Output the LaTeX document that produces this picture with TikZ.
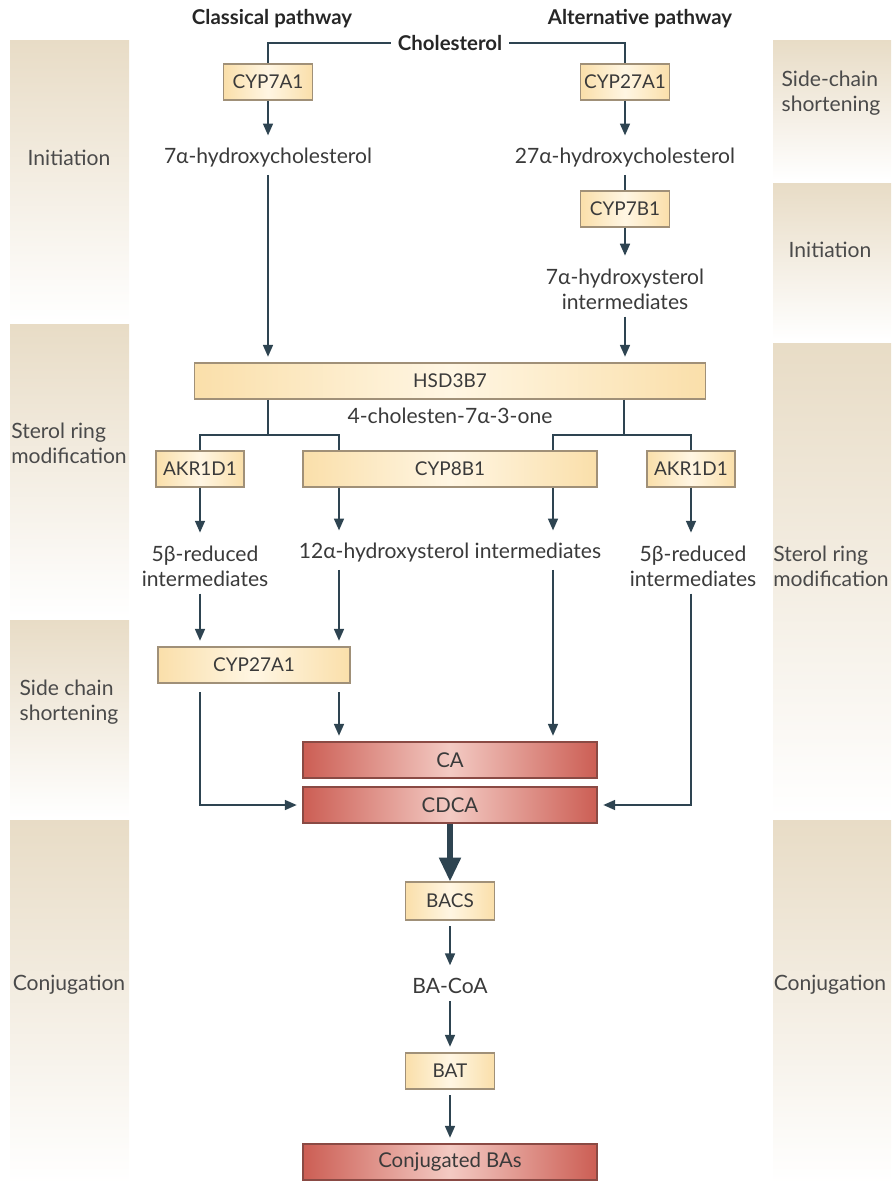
\documentclass[tikz,border=0pt]{standalone}
\usepackage{fontspec}
\setmainfont{Lato}
\usetikzlibrary{arrows.meta,positioning,calc}

\definecolor{arrowcol}{HTML}{2E4451}
\definecolor{tan}{HTML}{E8DCC6}
\definecolor{enzedge}{HTML}{FADFAA}
\definecolor{enzmid}{HTML}{FFF6E3}
\definecolor{enzline}{HTML}{A09078}
\definecolor{prodedge}{HTML}{CC5E54}
\definecolor{prodmid}{HTML}{F3CAC3}
\definecolor{prodline}{HTML}{8A4A44}
\definecolor{txtcol}{HTML}{3A3A3A}
\definecolor{stagetxt}{HTML}{4A4A4A}

\begin{document}
\begin{tikzpicture}[x=0.025cm,y=-0.025cm,
        every node/.style={font=\fontsize{15}{17.8}\selectfont,text=txtcol},
        enzyme/.style={draw=enzline,line width=0.8pt,left color=enzedge,right color=enzedge,middle color=enzmid,minimum width=2.225cm,minimum height=0.9cm,inner sep=0pt,font=\fontsize{13.5}{16}\selectfont},
        product/.style={draw=prodline,line width=0.8pt,left color=prodedge,right color=prodedge,middle color=prodmid,minimum width=7.35cm,minimum height=0.9cm,inner sep=0pt,font=\fontsize{14.5}{17}\selectfont},
        metab/.style={inner sep=5pt,align=center},
        stagelbl/.style={align=left,text=stagetxt},
        head/.style={font=\fontsize{14.5}{17.8}\selectfont\bfseries,text=black!85,inner sep=5pt},
        link/.style={line width=1.5pt,draw=arrowcol},
        flow/.style={link,-{Triangle[length=8.5pt,width=7pt]},shorten >=4pt},
        bigflow/.style={line width=3.6pt,draw=arrowcol,-{Triangle[length=17pt,width=15pt]}}]

        \useasboundingbox (0,0) rectangle (893,1184);

        % left side stage panels
        \shade[top color=tan,bottom color=white] (10,40) rectangle (129,322);
        \shade[top color=tan,bottom color=white] (10,324) rectangle (129,618);
        \shade[top color=tan,bottom color=white] (10,620) rectangle (129,818);
        \shade[top color=tan,bottom color=white] (10,820) rectangle (129,1184);

        % right side stage panels
        \shade[top color=tan,bottom color=white] (773,40) rectangle (891,180);
        \shade[top color=tan,bottom color=white] (773,183) rectangle (891,340);
        \shade[top color=tan,bottom color=white] (773,343) rectangle (891,817);
        \shade[top color=tan,bottom color=white] (773,820) rectangle (891,1184);

        % stage labels
        \node[stagelbl] (lInit) at (69,158) {Initiation};
        \node[stagelbl] (lRing) at (69,443) {Sterol ring\\modification};
        \node[stagelbl] (lSide) at (69,702) {Side chain\\shortening};
        \node[stagelbl] (lConj) at (69,985) {Conjugation};
        \node[stagelbl] (rSide) at (831,93) {Side-chain\\shortening};
        \node[stagelbl] (rInit) at (830,250) {Initiation};
        \node[stagelbl] (rRing) at (831,566) {Sterol ring\\modification};
        \node[stagelbl] (rConj) at (830,985) {Conjugation};

        % headings
        \node[head] (classical) at (272,19) {Classical pathway};
        \node[head] (alternative) at (640,19) {Alternative pathway};
        \node[head] (chol) at (450,43) {Cholesterol};

        % initiation
        \node[enzyme] (cyp7a1) at (268,82) {CYP7A1};
        \node[enzyme] (cyp27a1) at (625,82) {CYP27A1};
        \node[metab] (hc7) at (268,158) {7α-hydroxycholesterol};
        \node[metab] (hc27) at (625,158) {27α-hydroxycholesterol};
        \node[enzyme] (cyp7b1) at (625,209) {CYP7B1};
        \node[metab] (hs7) at (625,289) {7α-hydroxysterol\\intermediates};

        % sterol ring modification
        \node[enzyme,minimum width=12.775cm] (hsd) at (450,381) {HSD3B7};
        \node[metab] (chn) at (450,416) {4-cholesten-7α-3-one};
        \coordinate (lsplit) at (268,435);
        \coordinate (rsplit) at (624,435);
        \node[enzyme,minimum width=2.2cm] (akr1) at (200,469) {AKR1D1};
        \node[enzyme,minimum width=7.35cm] (cyp8b1) at (450,469) {CYP8B1};
        \node[enzyme,minimum width=2.2cm] (akr2) at (691,469) {AKR1D1};
        \coordinate (colB) at (339,469);
        \coordinate (colC) at (553,469);
        \node[metab] (red1) at (205,566) {5β-reduced\\intermediates};
        \node[metab] (hs12) at (450,553) {12α-hydroxysterol intermediates};
        \node[metab] (red2) at (693,566) {5β-reduced\\intermediates};

        % side chain shortening
        \node[enzyme,minimum width=4.8cm] (cyp27b) at (254,665) {CYP27A1};
        \node[product] (ca) at (450,760) {CA};
        \node[product] (cdca) at (450,805) {CDCA};

        % conjugation
        \node[enzyme,minimum height=0.95cm] (bacs) at (450,901) {BACS};
        \node[metab] (bacoa) at (450,986) {BA-CoA};
        \node[enzyme] (bat) at (450,1071) {BAT};
        \node[product] (conj) at (450,1162) {Conjugated BAs};

        % arcs from cholesterol
        \draw[link] (chol.west) -| (cyp7a1.north);
        \draw[link] (chol.east) -| (cyp27a1.north);
        \draw[flow] (cyp7a1) -- (hc7);
        \draw[flow] (cyp27a1) -- (hc27);
        \draw[link] (hc27) -- (cyp7b1);
        \draw[flow] (cyp7b1) -- (hs7);
        \draw[flow] (hc7) -- (hsd.north -| hc7);
        \draw[flow] (hs7) -- (hsd.north -| hs7);

        % branches below HSD3B7
        \draw[link] (hsd.south -| lsplit) -- (lsplit);
        \draw[link] (akr1.north) |- (lsplit) -| (cyp8b1.north -| colB);
        \draw[link] (hsd.south -| rsplit) -- (rsplit);
        \draw[link] (cyp8b1.north -| colC) |- (rsplit) -| (akr2.north);
        \draw[flow] (akr1) -- (red1.north -| akr1);
        \draw[flow] (cyp8b1.south -| colB) -- (hs12.north -| colB);
        \draw[flow] (cyp8b1.south -| colC) -- (hs12.north -| colC);
        \draw[flow] (akr2) -- (red2.north -| akr2);

        % arcs into CA and CDCA
        \draw[flow] (red1.south -| akr1) -- (cyp27b.north -| akr1);
        \draw[flow] (hs12.south -| colB) -- (cyp27b.north -| colB);
        \draw[flow] (hs12.south -| colC) -- (ca.north -| colC);
        \draw[flow] (red2.south -| akr2) |- (cdca.east);
        \draw[flow,shorten <=6pt] (cyp27b.south -| akr1) |- (cdca.west);
        \draw[flow,shorten <=6pt] (cyp27b.south -| colB) -- (ca.north -| colB);

        % conjugation arcs
        \draw[bigflow] (cdca) -- (bacs);
        \draw[flow,shorten <=4pt] (bacs) -- (bacoa);
        \draw[flow] (bacoa) -- (bat);
        \draw[flow,shorten <=4pt] (bat) -- (conj);

\end{tikzpicture}
\end{document}
